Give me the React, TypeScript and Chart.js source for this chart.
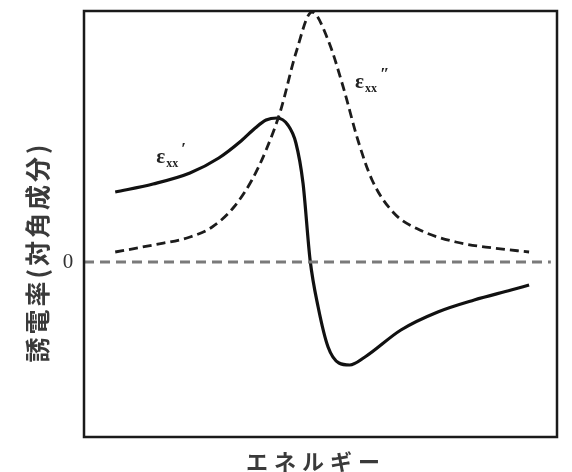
import React, { useEffect, useRef } from "react";
import { Chart, registerables } from "chart.js";

Chart.register(...registerables);

// Photon energy (arbitrary units, 0–100 across the frame)
const realEnergy = [6.6, 14.6, 22.4, 28.5, 33.2, 36.2, 38.5, 40.8, 43.1, 44.8, 46.3, 47.8, 49.5, 51.6, 53.9, 56.2, 59.4, 67.0, 74.8, 82.5, 90.3, 94.1];
// Real part ε_xx' (arbitrary units)
const epsReal = [7.0, 7.8, 8.9, 10.4, 12.1, 13.4, 14.2, 14.4, 13.7, 11.9, 7.9, 0.2, -4.5, -8.5, -10.1, -10.3, -9.5, -6.8, -5.0, -3.8, -2.8, -2.3];

const imagEnergy = [6.6, 14.6, 22.4, 27.1, 31.7, 35.5, 38.5, 41.6, 44.8, 48.2, 51.6, 54.8, 57.9, 60.9, 65.5, 71.0, 78.6, 86.5, 94.1];
// Imaginary part ε_xx'' (arbitrary units)
const epsImag = [1.0, 1.7, 2.5, 3.5, 5.5, 8.2, 11.2, 15.2, 20.9, 25.0, 22.2, 17.5, 12.2, 8.2, 4.9, 3.2, 2.0, 1.4, 1.0];

// Zero reference line
const zeroEnergy = [0, 98.7];
const zeroLevel = [0, 0];

const yTitle = "誘電率(対角成分)";
const xTitle = "エネルギー";
const zeroLabel = "0";

const toPoints = (xs: number[], ys: number[]) => xs.map((x, i) => ({ x, y: ys[i] }));

const framePlugin = {
  id: "frameAndLabels",
  afterDatasetsDraw(chart: any) {
    const { ctx, chartArea, scales } = chart;
    const { left, top, right, bottom } = chartArea;
    ctx.save();
    // box frame
    ctx.strokeStyle = "#1a1a1a";
    ctx.lineWidth = 2.5;
    ctx.strokeRect(left, top, right - left, bottom - top);

    // zero label
    ctx.fillStyle = "#333";
    ctx.font = "21px 'Liberation Serif', serif";
    ctx.textAlign = "center";
    ctx.textBaseline = "middle";
    ctx.fillText(zeroLabel, left - 16, scales.y.getPixelForValue(0));

    // y axis title, rotated
    ctx.save();
    ctx.translate(37, 252);
    ctx.rotate(-Math.PI / 2);
    ctx.font = "bold 25px 'Noto Sans CJK JP'";
    ctx.fillStyle = "#3a3a3a";
    ctx.textAlign = "center";
    ctx.textBaseline = "middle";
    (ctx as any).letterSpacing = "3px";
    ctx.fillText(yTitle, 0, 0);
    ctx.restore();

    // x axis title
    ctx.font = "bold 22px 'Noto Sans CJK JP'";
    ctx.fillStyle = "#3a3a3a";
    ctx.textAlign = "center";
    ctx.textBaseline = "middle";
    (ctx as any).letterSpacing = "6px";
    ctx.fillText(xTitle, 316, bottom + 25);
    (ctx as any).letterSpacing = "0px";

    // curve labels
    const drawEps = (x: number, y: number, prime: string) => {
      ctx.fillStyle = "#222";
      ctx.textAlign = "left";
      ctx.textBaseline = "alphabetic";
      ctx.font = "bold 21px 'Liberation Serif', serif";
      ctx.fillText("ε", x, y);
      ctx.font = "bold 12px 'Liberation Serif', serif";
      ctx.fillText("xx", x + 10, y + 4);
      ctx.font = "bold 17px 'Liberation Serif', serif";
      ctx.fillText(prime, x + 25, y - 9);
    };
    drawEps(scales.x.getPixelForValue(15.3), scales.y.getPixelForValue(9.9), "′");
    drawEps(scales.x.getPixelForValue(57.3), scales.y.getPixelForValue(17.4), "″");
    ctx.restore();
  },
};

export default function App() {
  const canvasRef = useRef<HTMLCanvasElement | null>(null);

  useEffect(() => {
    document.body.style.margin = "0";
    const canvas = canvasRef.current;
    if (!canvas) return;
    const chart = new Chart(canvas, {
      type: "line",
      data: {
        datasets: [
          {
            label: "zero",
            data: toPoints(zeroEnergy, zeroLevel),
            borderColor: "#7a7a7a",
            borderWidth: 3,
            borderDash: [10, 6],
            pointRadius: 0,
          },
          {
            label: "ε_xx''",
            data: toPoints(imagEnergy, epsImag),
            borderColor: "#1c1c1c",
            borderWidth: 2.8,
            borderDash: [9, 5],
            pointRadius: 0,
            cubicInterpolationMode: "monotone",
          },
          {
            label: "ε_xx'",
            data: toPoints(realEnergy, epsReal),
            borderColor: "#111",
            borderWidth: 3.2,
            pointRadius: 0,
            cubicInterpolationMode: "monotone",
          },
        ],
      },
      options: {
        responsive: false,
        animation: false,
        layout: { padding: { left: 84, top: 11, right: 15, bottom: 35 } },
        plugins: { legend: { display: false }, tooltip: { enabled: false } },
        scales: {
          x: { type: "linear", min: 0, max: 100, display: false },
          y: { type: "linear", min: -17.5, max: 25.1, display: false },
        },
      },
      plugins: [framePlugin],
    });
    return () => chart.destroy();
  }, []);

  return (
    <div style={{ width: 572, height: 472, background: "#fff" }}>
      <canvas ref={canvasRef} width={572} height={472} />
    </div>
  );
}
